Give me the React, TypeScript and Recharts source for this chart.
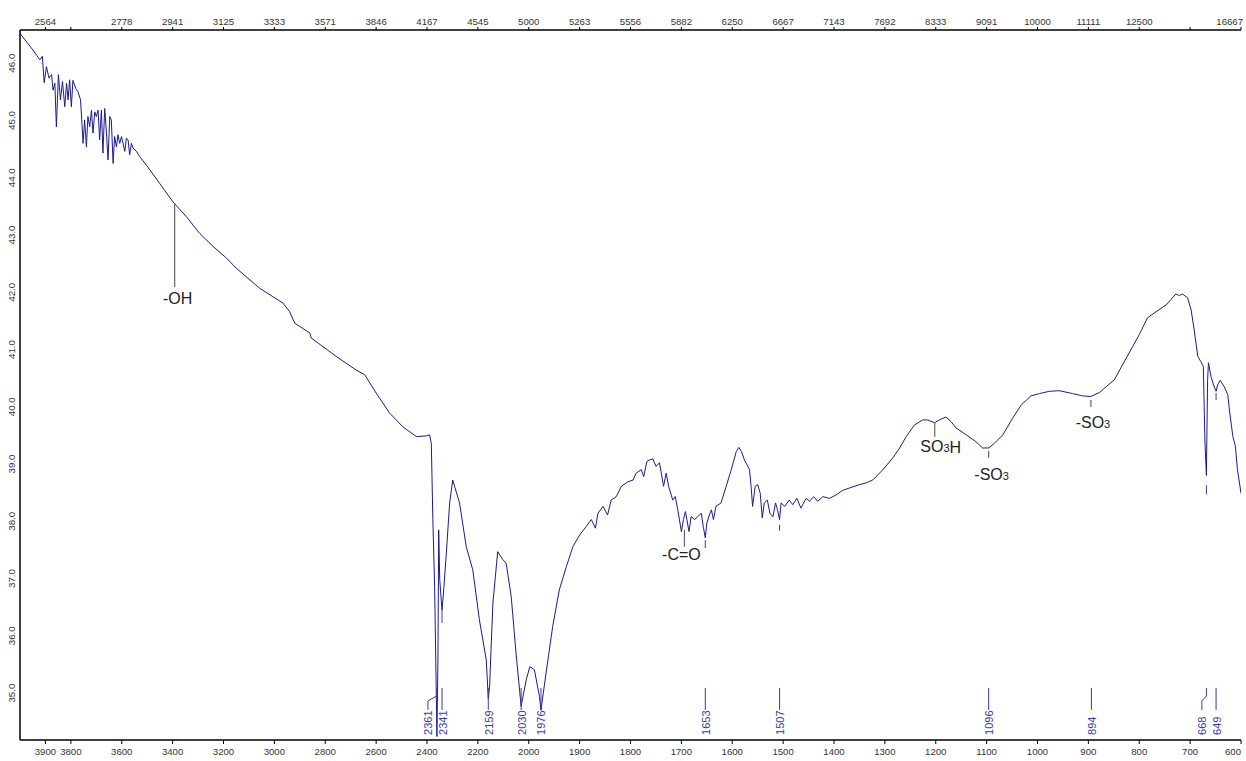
import { LineChart, Line, XAxis, YAxis, ReferenceDot } from "recharts";

// FT-IR spectrum, wavenumber (cm-1) vs transmittance (%)
const wavenumbers = [
  4000, 3949, 3935, 3922, 3912, 3905, 3896, 3886, 3876, 3870, 3863, 3857, 3849, 3841, 3833, 3824, 3817, 3811,
  3805, 3798, 3792, 3781, 3772, 3762, 3752, 3746, 3739, 3733, 3726, 3719, 3713, 3706, 3700, 3693, 3687, 3680,
  3674, 3667, 3660, 3654, 3647, 3641, 3634, 3628, 3621, 3615, 3608, 3601, 3595, 3588, 3582, 3575, 3569, 3562,
  3556, 3542, 3530, 3503, 3451, 3399, 3346, 3294, 3241, 3189, 3150, 3058, 2966, 2940, 2920, 2861, 2855, 2757,
  2678, 2645, 2600, 2547, 2495, 2442, 2403, 2390, 2383, 2377, 2370, 2364, 2361, 2357, 2354, 2350, 2341, 2336,
  2324, 2311, 2299, 2272, 2246, 2220, 2194, 2167, 2159, 2154, 2141, 2122, 2102, 2089, 2069, 2050, 2030, 2010,
  1998, 1989, 1979, 1976, 1966, 1953, 1940, 1926, 1913, 1900, 1887, 1877, 1869, 1864, 1854, 1845, 1838, 1828,
  1818, 1805, 1795, 1789, 1779, 1774, 1768, 1763, 1756, 1750, 1743, 1735, 1730, 1725, 1717, 1712, 1707, 1700,
  1696, 1692, 1685, 1681, 1674, 1668, 1661, 1657, 1653, 1650, 1645, 1641, 1637, 1632, 1622, 1612, 1602, 1592,
  1587, 1582, 1576, 1566, 1563, 1560, 1555, 1550, 1545, 1541, 1537, 1531, 1526, 1520, 1515, 1511, 1507, 1504,
  1497, 1488, 1481, 1473, 1465, 1455, 1448, 1440, 1432, 1422, 1409, 1396, 1383, 1370, 1350, 1337, 1324, 1304,
  1285, 1271, 1258, 1242, 1226, 1216, 1202, 1193, 1180, 1170, 1160, 1140, 1121, 1108, 1096, 1085, 1068, 1049,
  1032, 1013, 996, 977, 957, 931, 911, 895, 878, 865, 849, 833, 813, 800, 784, 767, 747, 738, 728, 721, 715,
  705, 698, 692, 685, 679, 674, 671, 668, 667, 665.6, 664, 659, 654, 649, 646, 641, 633, 626, 622, 616, 611,
  607, 600,
];

const transmittance = [
  46.52, 46.23, 46.14, 46.06, 46.12, 45.66, 45.94, 45.74, 45.8, 45.53, 45.65, 44.89, 45.8, 45.36, 45.68, 45.24,
  45.65, 45.36, 45.71, 45.24, 45.7, 45.56, 45.5, 45.36, 44.6, 45.01, 44.54, 45.07, 44.89, 45.18, 44.78, 45.15,
  45.07, 45.18, 44.66, 45.18, 44.43, 45.21, 44.78, 44.31, 45.07, 45.01, 44.25, 44.72, 44.54, 44.75, 44.6, 44.72,
  44.6, 44.46, 44.69, 44.66, 44.4, 44.6, 44.52, 44.46, 44.37, 44.22, 43.9, 43.58, 43.32, 43.03, 42.8, 42.6,
  42.42, 42.07, 41.81, 41.66, 41.46, 41.29, 41.2, 40.88, 40.64, 40.56, 40.24, 39.89, 39.65, 39.48, 39.49, 39.51,
  39.36, 38.03, 36.86, 35.11, 34.24, 35.6, 37.85, 36.98, 36.45, 36.7, 37.44, 38.32, 38.72, 38.32, 37.56, 37.15,
  36.28, 35.58, 34.9, 35.11, 36.57, 37.47, 37.33, 37.27, 36.69, 35.7, 34.77, 35.23, 35.46, 35.41, 34.94, 34.7,
  35.35, 36.16, 36.8, 37.21, 37.56, 37.76, 37.91, 38.03, 37.88, 38.14, 38.26, 38.11, 38.37, 38.43, 38.61, 38.69,
  38.72, 38.84, 38.9, 38.78, 39.04, 39.07, 39.09, 38.96, 39.02, 38.61, 38.84, 38.61, 38.37, 38.43, 38.2, 37.82,
  38.03, 38.17, 37.82, 38.08, 38.03, 38.08, 38.14, 37.91, 37.71, 37.97, 38.11, 38.2, 38.03, 38.26, 38.32, 38.61,
  38.9, 39.22, 39.29, 39.22, 39.07, 38.9, 38.61, 38.26, 38.61, 38.64, 38.49, 38.06, 38.32, 38.37, 38.14, 38.08,
  38.32, 38.2, 38.03, 38.32, 38.26, 38.37, 38.29, 38.4, 38.23, 38.4, 38.35, 38.43, 38.35, 38.43, 38.4, 38.46,
  38.54, 38.58, 38.64, 38.67, 38.72, 38.9, 39.1, 39.28, 39.48, 39.68, 39.77, 39.77, 39.72, 39.77, 39.82, 39.74,
  39.63, 39.51, 39.39, 39.28, 39.28, 39.36, 39.51, 39.8, 40.03, 40.19, 40.23, 40.27, 40.28, 40.23, 40.19, 40.18,
  40.25, 40.35, 40.47, 40.73, 41.05, 41.26, 41.55, 41.66, 41.78, 41.87, 41.97, 41.94, 41.97, 41.9, 41.69, 41.34,
  40.88, 40.79, 40.7, 39.42, 38.8, 39.54, 40.47, 40.77, 40.53, 40.38, 40.27, 40.38, 40.46, 40.35, 40.21, 39.89,
  39.48, 39.31, 38.9, 38.49,
];

const wnTicks = [
  3900, 3800, 3600, 3400, 3200, 3000, 2800, 2600, 2400, 2200, 2000, 1900, 1800, 1700, 1600, 1500, 1400, 1300,
  1200, 1100, 1000, 900, 800, 700, 600,
];
const unlabelledTopTicks = [3800, 700];
const yTicks = [35, 36, 37, 38, 39, 40, 41, 42, 43, 44, 45, 46];

// peak picks along the bottom
const peakLabels = [2361, 2341, 2159, 2030, 1976, 1653, 1507, 1096, 894, 668, 649];
// little dashes under some dips
const dipMarks = [2341, 1653, 1507, 668, 649];
const dipMarkLevels = [36.45, 37.67, 37.94, 38.63, 40.24];
// functional group labels
const groupNames = ["-OH", "-C=O", "SO3H", "-SO3", "-SO3"];
const groupWavenumbers = [3392, 1694, 1202, 1096, 895];
const groupLevels = [43.56, 37.85, 39.72, 39.23, 40.12];

// layout of the group labels (px)
const groupLeader = [84, 17, 14, 7, 7];
const groupDx = [3, -3, 6, 3, 2];
const groupDy = [96, 25, 24, 24, 23];
const dipLen = [13, 8, 6, 9, 7];

// axis has a x2 compression above 2000 cm-1
const toAxis = (w: number) => (w > 2000 ? 2000 + (w - 2000) / 2 : w);
const fromAxis = (u: number) => (u > 2000 ? 2000 + (u - 2000) * 2 : u);

const data = wavenumbers.map((w, i) => ({ u: toAxis(w), t: transmittance[i] }));

const AXIS_FONT = "'Liberation Sans', Arial, sans-serif";
const LINE = "#1b1b8f";
const PEAK = "#3a3aa6";

function BottomTick({ x, y, payload }: any) {
  const w = Math.round(fromAxis(payload.value));
  return (
    <text x={w === 600 ? x : x} y={y + 11.4} textAnchor={w === 600 ? "end" : "middle"} fontSize={9.6} fill="#333" fontFamily={AXIS_FONT}>
      {w}
    </text>
  );
}

function TopTick({ x, y, payload }: any) {
  const w = Math.round(fromAxis(payload.value));
  if (unlabelledTopTicks.includes(w)) return <g />;
  const nm = Math.round(1e7 / w);
  return (
    <text x={w === 600 ? x + 2 : x} y={y - 1.9} textAnchor={w === 600 ? "end" : "middle"} fontSize={9.6} fill="#333" fontFamily={AXIS_FONT}>
      {nm}
    </text>
  );
}

function LeftTick({ x, y, payload }: any) {
  return (
    <text transform={`translate(${x - 9},${y}) rotate(-90)`} textAnchor="middle" dominantBaseline="central" fontSize={9.8} fill="#333" fontFamily={AXIS_FONT}>
      {payload.value.toFixed(1)}
    </text>
  );
}

function peakShape(w: number) {
  const dx = w === 2361 ? -9 : w === 668 ? -4.5 : 0;
  return (p: any) => {
    const { cx, cy } = p;
    const d = dx === 0 ? `M${cx},${cy}V${cy + 22}` : `M${cx},${cy}V${cy + 8}L${cx + dx},${cy + 13}V${cy + 22}`;
    return (
      <g>
        <path d={d} stroke={PEAK} strokeWidth={1} fill="none" />
        <text transform={`translate(${cx + dx + 0.5},${cy + 47}) rotate(-90)`} textAnchor="start" dominantBaseline="central" fontSize={11} fill={PEAK} fontFamily={AXIS_FONT}>
          {w}
        </text>
      </g>
    );
  };
}

function groupText(name: string) {
  if (!name.includes("3")) return name;
  const [a, b] = name.split("3");
  return (
    <>
      {a}
      <tspan fontSize={11} dy={1.5}>3</tspan>
      <tspan dy={-1.5}>{b}</tspan>
    </>
  );
}

function groupShape(i: number) {
  return (p: any) => {
    const { cx, cy } = p;
    return (
      <g>
        <line x1={cx} y1={cy} x2={cx} y2={cy + groupLeader[i]} stroke="#666" strokeWidth={1.2} />
        <text x={cx + groupDx[i]} y={cy + groupDy[i]} textAnchor="middle" dominantBaseline="central" fontSize={16} fill="#222" fontFamily={AXIS_FONT}>
          {groupText(groupNames[i])}
        </text>
      </g>
    );
  };
}

function dipShape(i: number) {
  return (p: any) => (
    <line x1={p.cx} y1={p.cy} x2={p.cx} y2={p.cy + dipLen[i]} stroke={PEAK} strokeWidth={1} />
  );
}

export default function App() {
  const ticks = wnTicks.map(toAxis);
  return (
    <div style={{ position: "absolute", left: 0, top: 0, width: 1246, height: 761, background: "#fff" }}>
      <LineChart width={1246} height={761} data={data} margin={{ top: 0, right: 5, bottom: 0, left: 0 }}>
        <XAxis
          xAxisId="b"
          dataKey="u"
          type="number"
          domain={[600, 3000]}
          allowDataOverflow
          reversed
          ticks={ticks}
          interval={0}
          height={21}
          tickSize={4}
          tickMargin={0}
          axisLine={{ stroke: "#000", strokeWidth: 1.5 }}
          tickLine={{ stroke: "#000" }}
          tick={<BottomTick />}
        />
        <XAxis
          xAxisId="t"
          orientation="top"
          dataKey="u"
          type="number"
          domain={[600, 3000]}
          allowDataOverflow
          reversed
          ticks={ticks}
          interval={0}
          height={30}
          tickSize={3}
          tickMargin={0}
          axisLine={{ stroke: "#000", strokeWidth: 1.5 }}
          tickLine={{ stroke: "#000" }}
          tick={<TopTick />}
        />
        <YAxis
          yAxisId="l"
          type="number"
          domain={[34.18, 46.58]}
          allowDataOverflow
          ticks={yTicks}
          interval={0}
          width={20}
          tickSize={0}
          tickMargin={0}
          tickLine={false}
          axisLine={{ stroke: "#000", strokeWidth: 1.5 }}
          tick={<LeftTick />}
        />
        <Line
          xAxisId="b"
          yAxisId="l"
          type="linear"
          dataKey="t"
          stroke={LINE}
          strokeWidth={1}
          dot={false}
          isAnimationActive={false}
        />
        {peakLabels.map((w) => (
          <ReferenceDot key={`p${w}`} xAxisId="b" yAxisId="l" x={toAxis(w)} y={35.09} r={0} shape={peakShape(w)} />
        ))}
        {dipMarks.map((w, i) => (
          <ReferenceDot key={`d${w}`} xAxisId="b" yAxisId="l" x={toAxis(w)} y={dipMarkLevels[i]} r={0} shape={dipShape(i)} />
        ))}
        {groupNames.map((n, i) => (
          <ReferenceDot key={`g${i}`} xAxisId="b" yAxisId="l" x={toAxis(groupWavenumbers[i])} y={groupLevels[i]} r={0} shape={groupShape(i)} />
        ))}
      </LineChart>
    </div>
  );
}
